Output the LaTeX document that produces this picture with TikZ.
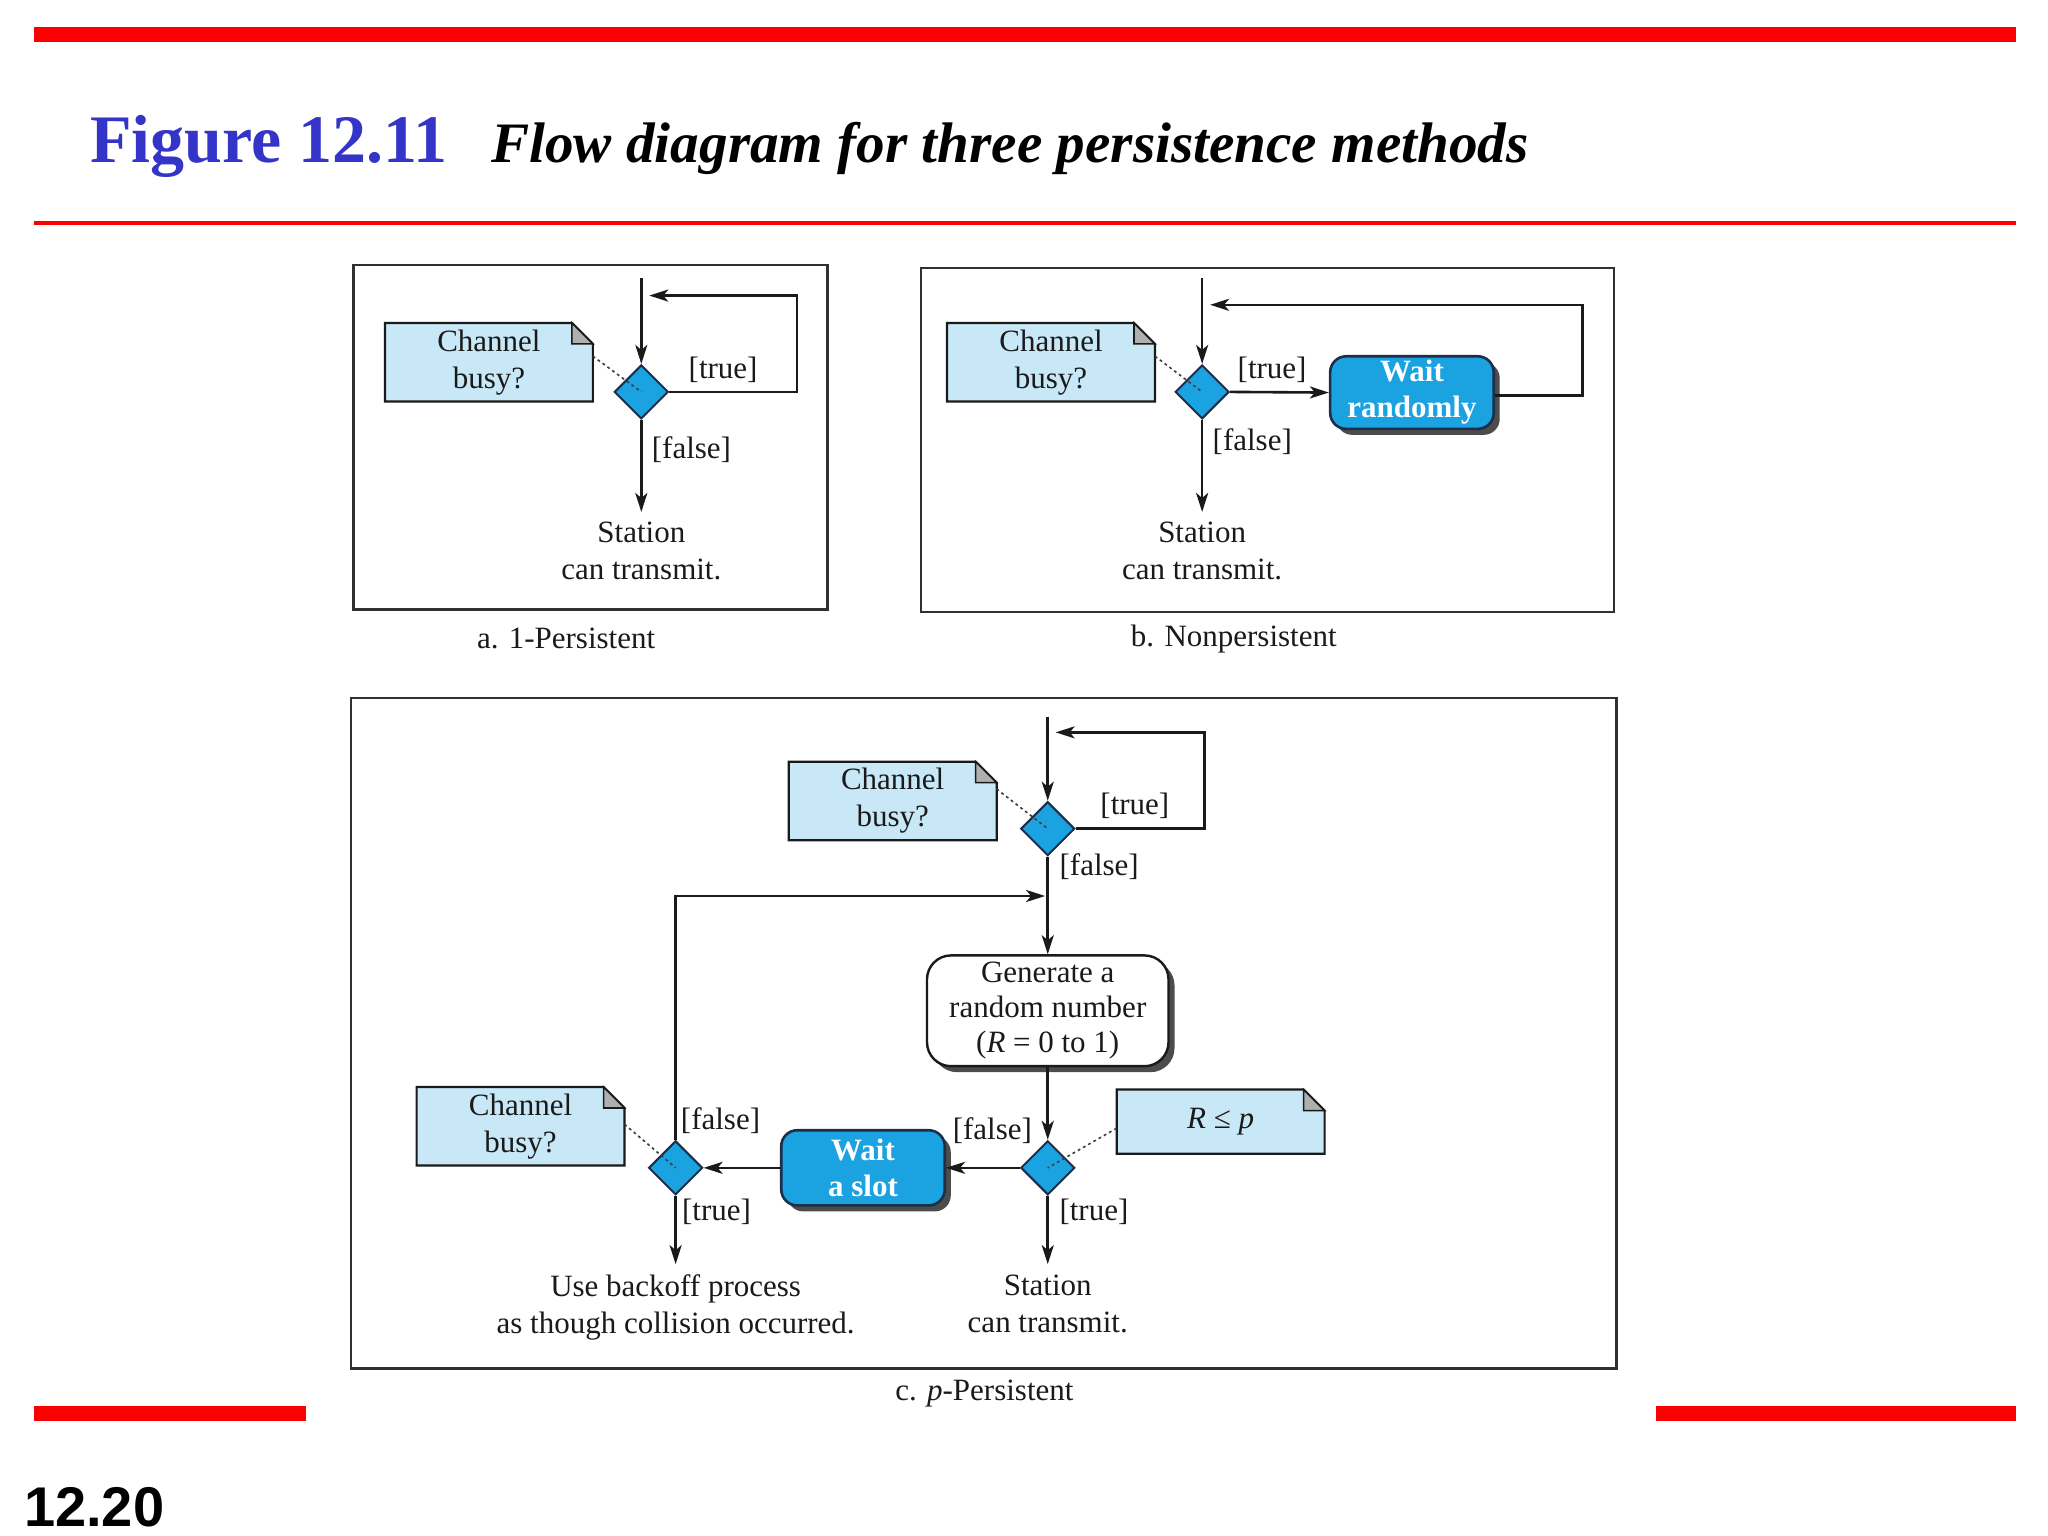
\documentclass[tikz,border=0pt]{standalone}
\usepackage{fontspec}
\setmainfont{Liberation Serif}
\newfontfamily\arialfont{Liberation Sans}
\usetikzlibrary{shapes.geometric,arrows.meta,shadows,backgrounds}
\definecolor{titleblue}{RGB}{52,52,200}
\definecolor{cyanbox}{RGB}{26,163,224}
\definecolor{notebg}{RGB}{200,232,248}
\definecolor{navy}{RGB}{28,46,74}
\definecolor{ink}{RGB}{26,26,26}
\definecolor{foldgray}{RGB}{175,175,175}
\definecolor{slidered}{RGB}{250,0,0}
\newcommand{\dogear}[1]{%
  \begin{scope}[on background layer]
    \fill[notebg] (#1.south west) -- (#1.north west) -- ([xshift=-10.5pt]#1.north east) -- ([yshift=-10.5pt]#1.north east) -- (#1.south east) -- cycle;
  \end{scope}
  \draw[ink, line width=1.1pt] (#1.south west) -- (#1.north west) -- ([xshift=-10.5pt]#1.north east) -- ([yshift=-10.5pt]#1.north east) -- (#1.south east) -- cycle;
  \draw[ink, line width=0.8pt, fill=foldgray] ([xshift=-10.5pt]#1.north east) -- ([xshift=-10.5pt,yshift=-10.5pt]#1.north east) -- ([yshift=-10.5pt]#1.north east) -- cycle;
}
\begin{document}
\begin{tikzpicture}[x=0.66pt,y=-0.66pt,
  txt/.style={font=\fontsize{15.5}{18.5}\selectfont, text=ink, align=center, inner sep=0pt},
  notebox/.style={txt, minimum width=103.6pt, minimum height=38.9pt},
  dia/.style={diamond, draw=navy, fill=cyanbox, line width=1pt, minimum width=27pt, minimum height=27pt, inner sep=0pt},
  waitbox/.style={rounded corners=8pt, draw=navy, line width=1.3pt, fill=cyanbox, text=white,
    font=\bfseries\fontsize{15.5}{18}\selectfont, align=center, minimum width=81.8pt, minimum height=36.3pt, inner sep=0pt,
    drop shadow={shadow xshift=3pt,shadow yshift=-3pt,fill=black!70,opacity=1}},
  genbox/.style={rounded corners=12pt, draw=ink, line width=1.2pt, fill=white, text=ink,
    font=\fontsize{15.5}{17.5}\selectfont, align=center, minimum width=120.8pt, minimum height=55.4pt, inner sep=0pt,
    drop shadow={shadow xshift=3pt,shadow yshift=-3pt,fill=black!70,opacity=1}},
  arr/.style={draw=ink, line width=1.3pt, -{Stealth[length=9.5pt,width=6pt,inset=2.5pt]}},
  dots/.style={draw=ink!85, line width=0.8pt, dash pattern=on 1.4pt off 1.6pt},
  panel/.style={draw=ink!90, line width=1.2pt},
  below/.style={txt, anchor=north, inner ysep=5pt}
]
\useasboundingbox (0,0) rectangle (1552,1164);

% header and footer
\fill[slidered] (26,20.5) rectangle (1528,31.5);
\draw[slidered, line width=2.2pt] (26,169) -- (1528,169);
\fill[slidered] (26,1065.5) rectangle (232,1076.5);
\fill[slidered] (1255,1065.5) rectangle (1528,1076.5);
\node[anchor=base west, inner sep=0pt, text=titleblue, font=\bfseries\fontsize{34}{40}\selectfont] (fig) at (68,123) {Figure 12.11};
\node[anchor=base west, inner sep=0pt, font=\bfseries\itshape\fontsize{28.6}{34}\selectfont] (ttl) at (372,123) {Flow diagram for three persistence methods};
\node[anchor=base west, inner sep=0pt, font=\arialfont\bfseries\fontsize{28}{32}\selectfont] (pg) at (18,1157) {12.20};

% panels
\draw[panel] (268,201) rectangle (627,462);
\draw[panel] (698,203) rectangle (1223,464);
\draw[panel] (266,529) rectangle (1225,1037);
\node[txt] (capa) at (429,484) {a. 1-Persistent};
\node[txt] (capb) at (935,484) {b. Nonpersistent};
\node[txt] (capc) at (746,1056) {c. \textit{p}-Persistent};

% ---- a. 1-persistent
\node[notebox] (na) at (370.5,274.5) {Channel\\busy?};
\dogear{na}
\node[dia] (da) at (486,297) {};
\coordinate (ain) at (486,211);
\coordinate (aloop) at (604,224);
\coordinate (aret) at (492,224);
\node[below] (ast) at (486,388) {Station\\can transmit.};
\draw[arr] (ain) -- (da.north);
\draw[arr] (da.east) -| (aloop) -- (aret);
\draw[arr] (da.south) -- (ast.north);
\draw[dots] ([yshift=3pt]na.east) -- (da.center);
\node[txt] (atrue) at (548,280) {[true]};
\node[txt] (afalse) at (524,341) {[false]};

% ---- b. nonpersistent
\node[notebox] (nb) at (796.5,274.5) {Channel\\busy?};
\dogear{nb}
\node[dia] (db) at (911,297) {};
\node[waitbox] (wr) at (1070,297.5) {Wait\\randomly};
\coordinate (bin) at (911,211);
\coordinate (bloop) at (1199,231);
\coordinate (bret) at (917,231);
\node[below] (bst) at (911,388) {Station\\can transmit.};
\draw[arr] (bin) -- (db.north);
\draw[arr] (db.east) -- (wr.west);
\draw[arr] ([yshift=-1.5pt]wr.east) -| (bloop) -- (bret);
\draw[arr] (db.south) -- (bst.north);
\draw[dots] ([yshift=3pt]nb.east) -- (db.center);
\node[txt] (btrue) at (964,280) {[true]};
\node[txt] (bfalse) at (949,335) {[false]};

% ---- c. p-persistent
\node[notebox] (nc1) at (676.5,607) {Channel\\busy?};
\dogear{nc1}
\node[dia] (dc1) at (794,628) {};
\coordinate (cin) at (794,543);
\coordinate (cloop) at (913,555);
\coordinate (cret) at (800,555);
\node[genbox] (gen) at (794,766) {Generate a\\random number\\(\textit{R} = 0 to 1)};
\coordinate (cfb) at (792,679);
\node[dia] (dc2) at (794,885) {};
\node[notebox, minimum height=31.7pt] (nc2) at (925,850) {\textit{R} ≤ \textit{p}};
\dogear{nc2}
\node[waitbox, minimum height=37.6pt] (ws) at (654,885) {Wait\\a slot};
\node[dia] (dc3) at (512,885) {};
\node[notebox] (nc3) at (394.5,853.5) {Channel\\busy?};
\dogear{nc3}
\node[below] (bk) at (512,958) {Use backoff process\\as though collision occurred.};
\node[below] (cst) at (794,958) {Station\\can transmit.};

\draw[arr] (cin) -- (dc1.north);
\draw[arr] (dc1.east) -| (cloop) -- (cret);
\draw[arr] (dc1.south) -- (gen.north);
\draw[arr] (dc3.north) |- (cfb);
\draw[arr] (gen.south) -- (dc2.north);
\draw[arr] (dc2.west) -- (ws.east);
\draw[arr] (ws.west) -- (dc3.east);
\draw[arr] (dc3.south) -- (bk.north);
\draw[arr] (dc2.south) -- (cst.north);
\draw[dots] ([yshift=6pt]nc1.east) -- (dc1.center);
\draw[dots] ([yshift=-3.3pt]nc2.west) -- (dc2.center);
\draw[dots] ([yshift=1pt]nc3.east) -- (dc3.center);

\node[txt] (c1true) at (860,611) {[true]};
\node[txt] (c1false) at (833,657) {[false]};
\node[txt] (c2false) at (752,857) {[false]};
\node[txt] (c2true) at (829,918) {[true]};
\node[txt] (c3false) at (546,849) {[false]};
\node[txt] (c3true) at (543,918) {[true]};
\end{tikzpicture}
\end{document}
